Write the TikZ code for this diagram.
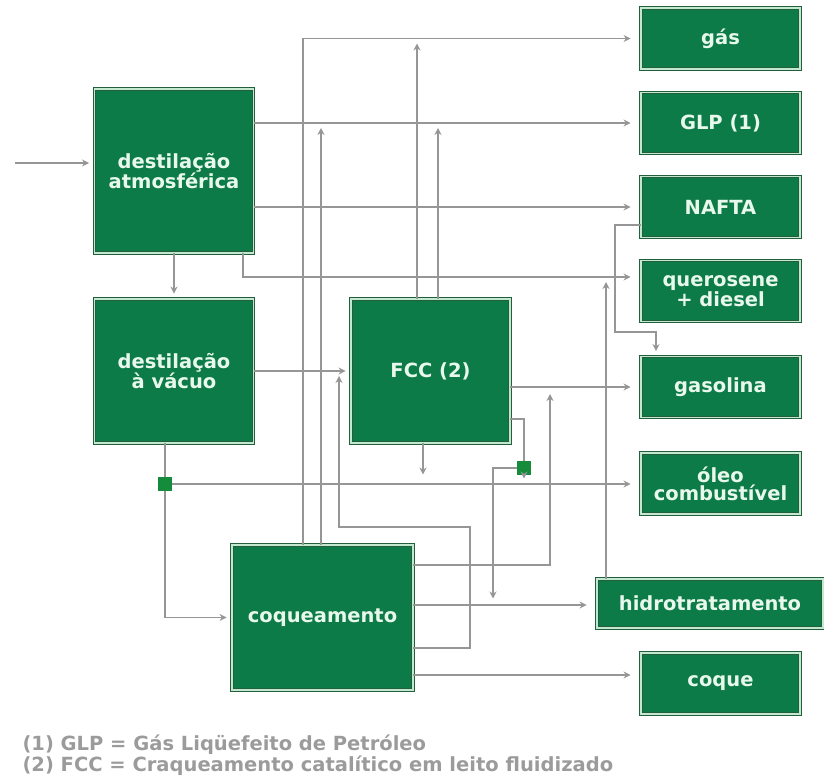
\documentclass[tikz,border=0pt]{standalone}
\usepackage{fontspec}
\newfontfamily\diafont{DejaVu Sans}
\usetikzlibrary{arrows.meta}

\definecolor{boxgreen}{RGB}{13,123,72}
\definecolor{boxedge}{RGB}{35,95,60}
\definecolor{boxline}{RGB}{195,232,208}
\definecolor{boxtext}{RGB}{232,248,236}
\definecolor{linegray}{RGB}{150,150,150}
\definecolor{notegray}{RGB}{155,155,155}
\definecolor{joint}{RGB}{20,140,60}

\begin{document}
\begin{tikzpicture}[x=1pt,y=-1pt,>={Stealth[length=7pt,width=7pt]},
    font=\diafont\bfseries\fontsize{19.5}{18}\selectfont,
    unit/.style={draw=boxedge, double=boxline, double distance=1.3pt, line width=0.9pt,
        fill=boxgreen, text=boxtext, align=center, inner sep=0pt,
        minimum width=159, minimum height=61},
    pipe/.style={draw=linegray, line width=1.3pt},
    flow/.style={pipe, ->, shorten >=10pt},
    tap/.style={pipe, ->, shorten >=5pt},
    junction/.style={fill=joint, minimum size=14, inner sep=0pt},
    note/.style={text=notegray, anchor=base west}]
    \useasboundingbox (0,0) rectangle (824,778);

    % process units
    \node[unit, minimum height=164] (atm) at (174,171) {destilação\\atmosférica};
    \node[unit, minimum height=144] (vac) at (174,371) {destilação\\à vácuo};
    \node[unit, minimum height=144] (fcc) at (430.5,371) {FCC (2)};
    \node[unit, minimum width=181, minimum height=145] (coq) at (322.5,617.5) {coqueamento};

    % products
    \node[unit] (gas) at (720.5,38.5) {gás};
    \node[unit] (glp) at (720.5,123) {GLP (1)};
    \node[unit] (nafta) at (720.5,207) {NAFTA};
    \node[unit] (quer) at (720.5,291) {querosene\\+ diesel};
    \node[unit] (gasol) at (720.5,387) {gasolina};
    \node[unit] (oleo) at (720.5,483.5) {óleo\\combustível};
    \node[unit, minimum width=226, minimum height=49] (hidro) at (710,603.5) {hidrotratamento};
    \node[unit] (coque) at (720.5,683.5) {coque};

    \node[junction] (j1) at (165,484) {};
    \node[junction] (j2) at (524,468) {};

    % columns and bends of the lines
    \coordinate (src) at (15,163);
    \coordinate (aker) at (243,0);
    \coordinate (cgas) at (303,0);
    \coordinate (cglp) at (321,0);
    \coordinate (rfcc) at (339,0);
    \coordinate (fgas) at (417,0);
    \coordinate (foil) at (423,0);
    \coordinate (fglp) at (438,0);
    \coordinate (rtop) at (470,527);
    \coordinate (hdrop) at (493,0);
    \coordinate (cgso) at (550,0);
    \coordinate (hker) at (606,0);
    \coordinate (nbend) at (615,332);
    \coordinate (ndrop) at (656,0);
    \coordinate (qline) at ([yshift=14]quer.west);
    \coordinate (fout) at ([yshift=-48]fcc.east);
    \coordinate (cout1) at ([yshift=52.5]coq.east);
    \coordinate (cout2) at ([yshift=12.5]coq.east);
    \coordinate (cout3) at ([yshift=-30.5]coq.east);
    \coordinate (cout4) at ([yshift=-57.5]coq.east);

    \draw[tap] (src) -- (src -| atm.west);
    \draw[flow] (atm.east |- glp.west) -- (glp.west);
    \draw[flow] (atm.east |- nafta.west) -- (nafta.west);
    \draw[flow] (aker |- atm.south) |- (qline);
    \draw[tap] (atm.south) -- (vac.north);
    \draw[tap] (vac.east) -- (fcc.west);

    \draw[pipe] (j1 |- vac.south) -- (j1);
    \draw[tap] (j1) |- (coq.west);
    \draw[flow] (j1) -- (j1 -| oleo.west);

    \draw[flow] (cgas |- coq.north) |- (gas.west);
    \draw[tap] (cglp |- coq.north) -- (cglp |- glp.west);
    \draw[tap] (fgas |- fcc.north) -- (fgas |- gas.west);
    \draw[tap] (fglp |- fcc.north) -- (fglp |- glp.west);

    \draw[flow] (fcc.east |- gasol.west) -- (gasol.west);
    \draw[tap, shorten >=9pt] (foil |- fcc.south) -- (foil |- oleo.west);
    \draw[pipe] (fout) -| (j2);
    \draw[tap] (j2) -- (j2 |- oleo.west);
    \draw[tap] (j2) -| (hdrop |- hidro.west);

    \draw[tap, shorten >=7pt] (cout1) -| (cgso |- gasol.west);
    \draw[flow] (cout2) -- (cout2 -| hidro.west);
    \draw[tap] (cout3) -| (rtop) -| (rfcc |- fcc.west);
    \draw[flow] (cout4) -- (cout4 -| coque.west);

    \draw[tap] (hker |- hidro.north) -- (hker |- qline);
    \draw[tap] ([yshift=-18]nafta.west) -| (nbend) -| (ndrop |- gasol.north);

    \node[note] (note1) at (19,750) {(1) GLP = Gás Liqüefeito de Petróleo};
    \node[note] (note2) at (19,771) {(2) FCC = Craqueamento catalítico em leito fluidizado};
\end{tikzpicture}
\end{document}
